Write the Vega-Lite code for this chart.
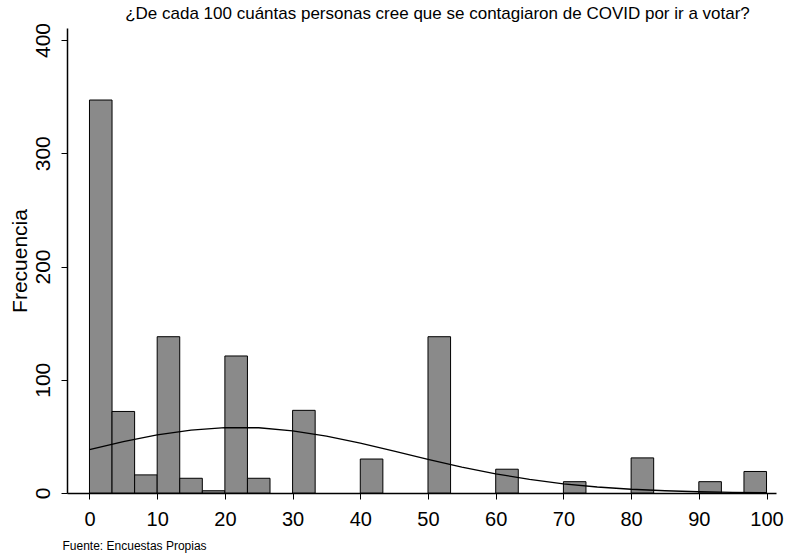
{
  "$schema": "https://vega.github.io/schema/vega-lite/v6.json",
  "autosize": {"type": "none"},
  "padding": {"left": 67, "top": 28, "right": 11, "bottom": 61},
  "width": 709,
  "height": 465,
  "background": "white",
  "config": {
    "view": {"stroke": null},
    "font": "Liberation Sans"
  },
  "title": {
    "text": "¿De cada 100 cuántas personas cree que se contagiaron de COVID por ir a votar?",
    "font": "Liberation Sans",
    "fontSize": 17,
    "fontWeight": "normal",
    "color": "#000",
    "anchor": "middle",
    "frame": "group",
    "dx": 16,
    "dy": 1,
    "offset": 0
  },
  "datasets": {
    "bins": [
      {"lo": 0, "hi": 3.333, "count": 347},
      {"lo": 3.333, "hi": 6.667, "count": 72},
      {"lo": 6.667, "hi": 10, "count": 16},
      {"lo": 10, "hi": 13.333, "count": 138},
      {"lo": 13.333, "hi": 16.667, "count": 13},
      {"lo": 16.667, "hi": 20, "count": 2},
      {"lo": 20, "hi": 23.333, "count": 121},
      {"lo": 23.333, "hi": 26.667, "count": 13},
      {"lo": 30, "hi": 33.333, "count": 73},
      {"lo": 40, "hi": 43.333, "count": 30},
      {"lo": 50, "hi": 53.333, "count": 138},
      {"lo": 60, "hi": 63.333, "count": 21},
      {"lo": 70, "hi": 73.333, "count": 10},
      {"lo": 80, "hi": 83.333, "count": 31},
      {"lo": 90, "hi": 93.333, "count": 10},
      {"lo": 96.667, "hi": 100, "count": 19}
    ],
    "curve": [
      {"x": 0, "y": 38.4},
      {"x": 5, "y": 45.3},
      {"x": 10, "y": 51.3},
      {"x": 15, "y": 55.6},
      {"x": 20, "y": 57.8},
      {"x": 25, "y": 57.6},
      {"x": 30, "y": 54.9},
      {"x": 35, "y": 50.2},
      {"x": 40, "y": 44.0},
      {"x": 45, "y": 36.9},
      {"x": 50, "y": 29.7},
      {"x": 55, "y": 22.9},
      {"x": 60, "y": 16.9},
      {"x": 65, "y": 12.0},
      {"x": 70, "y": 8.1},
      {"x": 75, "y": 5.3},
      {"x": 80, "y": 3.3},
      {"x": 85, "y": 2.0},
      {"x": 90, "y": 1.1},
      {"x": 95, "y": 0.6},
      {"x": 100, "y": 0.3}
    ]
  },
  "layer": [
    {
      "data": {"name": "bins"},
      "mark": {"type": "bar", "fill": "#8a8a8a", "stroke": "#000", "strokeWidth": 1},
      "encoding": {
        "x": {
          "field": "lo", "type": "quantitative",
          "scale": {"domain": [-3.32, 101.4], "nice": false, "zero": false},
          "axis": {
            "values": [0, 10, 20, 30, 40, 50, 60, 70, 80, 90, 100],
            "title": "Fuente: Encuestas Propias",
            "titleFont": "Liberation Sans",
            "titleFontSize": 12,
            "titleFontWeight": "normal",
            "titleColor": "#000",
            "titleAnchor": "start",
            "titleAlign": "left",
            "titleBaseline": "alphabetic",
            "titleX": -5,
            "titleY": 56,
            "labelFont": "Liberation Sans",
            "labelFontSize": 20,
            "labelColor": "#000",
            "labelPadding": 10,
            "labelFlush": false,
            "tickSize": 6,
            "tickColor": "#000",
            "domainColor": "#000",
            "domainWidth": 1.5,
            "grid": false
          }
        },
        "x2": {"field": "hi"},
        "y": {
          "field": "count", "type": "quantitative",
          "scale": {"domain": [0, 410.6], "nice": false},
          "axis": {
            "values": [0, 100, 200, 300, 400],
            "title": "Frecuencia",
            "titleFont": "Liberation Sans",
            "titleFontSize": 21,
            "titleFontWeight": "normal",
            "titleColor": "#000",
            "titlePadding": 2,
            "labelFont": "Liberation Sans",
            "labelFontSize": 21,
            "labelColor": "#000",
            "labelAngle": -90,
            "labelAlign": "center",
            "labelBaseline": "bottom",
            "labelPadding": 8,
            "labelFlush": false,
            "tickSize": 6,
            "tickColor": "#000",
            "domainColor": "#000",
            "domainWidth": 1.5,
            "grid": false
          }
        },
        "y2": {"datum": 0}
      }
    },
    {
      "data": {"name": "curve"},
      "mark": {"type": "line", "color": "#000", "strokeWidth": 1.3},
      "encoding": {
        "x": {"field": "x", "type": "quantitative"},
        "y": {"field": "y", "type": "quantitative"}
      }
    }
  ]
}
